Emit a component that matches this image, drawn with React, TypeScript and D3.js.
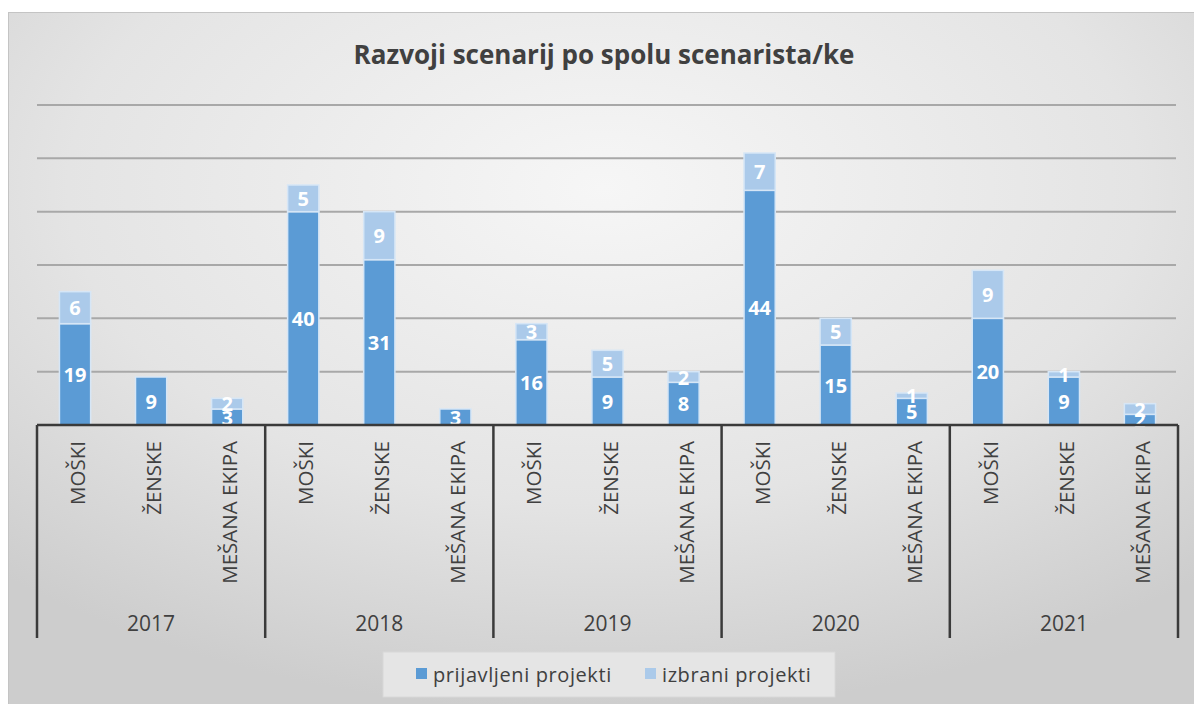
import React from "react";
import * as d3 from "d3";

const years = ["2017", "2018", "2019", "2020", "2021"];
const categories = ["MOŠKI", "ŽENSKE", "MEŠANA EKIPA"];
const prijavljeni = [19, 9, 3, 40, 31, 3, 16, 9, 8, 44, 15, 5, 20, 9, 2];
const izbrani = [6, 0, 2, 5, 9, 0, 3, 5, 2, 7, 5, 1, 9, 1, 2];
const yTicks = [10, 20, 30, 40, 50, 60];
const seriesNames = ["prijavljeni projekti", "izbrani projekti"];
const title = "Razvoji scenarij po spolu scenarista/ke";

const W = 1194;
const H = 704;
const left = 37;
const right = 1178;
const base = 425;
const top = 105;
const DARK = "#5B9BD5";
const LIGHT = "#ABCAEA";
const TEXT = "#404040";
const FONT = "'Open Sans', 'Noto Sans', sans-serif";

export default function App() {
  const keys = years.flatMap((yr) => categories.map((c) => `${yr}|${c}`));
  const x = d3
    .scaleBand<string>()
    .domain(keys)
    .range([left, right])
    .paddingInner(0.59)
    .paddingOuter(0.295);
  const xYear = d3.scaleBand<string>().domain(years).range([left, right]);
  const y = d3.scaleLinear().domain([0, 60]).range([base, top]);
  const bw = x.bandwidth();

  const stacked = keys.map((k, i) => {
    const a = prijavljeni[i];
    const b = izbrani[i];
    return { k, a, b, cat: k.split("|")[1] };
  });

  return (
    <svg
      width={W}
      height={H}
      style={{ position: "absolute", left: 0, top: 0, display: "block" }}
      fontFamily={FONT}
    >
      <defs>
        <radialGradient id="bg" cx="0.5" cy="0.25" r="0.75" gradientUnits="objectBoundingBox">
          <stop offset="0" stopColor="#f6f6f6" />
          <stop offset="0.6" stopColor="#e4e4e4" />
          <stop offset="1" stopColor="#cdcdcd" />
        </radialGradient>
      </defs>
      <rect x={0} y={0} width={W} height={H} fill="#ffffff" />
      <rect x={8.5} y={12.5} width={1190} height={700} fill="url(#bg)" stroke="#c4c4c4" strokeWidth={1} />

      <text x={604} y={64} textAnchor="middle" fontSize={26} fontWeight={700} fill={TEXT}>
        {title}
      </text>

      {yTicks.map((t) => (
        <line key={t} x1={left} x2={right - 2} y1={y(t)} y2={y(t)} stroke="#a8a8a8" strokeWidth={2} />
      ))}

      {stacked.map((d) => {
        const x0 = x(d.k)!;
        return (
          <g key={d.k}>
            {d.a > 0 && (
              <rect x={x0} y={y(d.a)} width={bw} height={y(0) - y(d.a)} fill={DARK} stroke="#d6e6f6" strokeWidth={1.5} />
            )}
            {d.b > 0 && (
              <rect x={x0} y={y(d.a + d.b)} width={bw} height={y(d.a) - y(d.a + d.b)} fill={LIGHT} stroke="#d6e6f6" strokeWidth={1.5} />
            )}
          </g>
        );
      })}

      {stacked.map((d) => {
        const cx = x(d.k)! + bw / 2;
        return (
          <g key={"l" + d.k} fontSize={20} fontWeight={700} fill="#ffffff" textAnchor="middle">
            {d.a > 0 && (
              <text x={cx} y={(y(0) + y(d.a)) / 2} dominantBaseline="central">
                {d.a}
              </text>
            )}
            {d.b > 0 && (
              <text x={cx} y={(y(d.a) + y(d.a + d.b)) / 2} dominantBaseline="central">
                {d.b}
              </text>
            )}
          </g>
        );
      })}

      <line x1={left} x2={right} y1={base} y2={base} stroke="#3a3a3a" strokeWidth={2.5} />
      {years.map((yr) => (
        <line key={yr} x1={xYear(yr)!} x2={xYear(yr)!} y1={base} y2={638} stroke="#3a3a3a" strokeWidth={2.5} />
      ))}
      <line x1={right} x2={right} y1={base} y2={638} stroke="#3a3a3a" strokeWidth={2.5} />

      {stacked.map((d) => {
        const cx = x(d.k)! + bw / 2 + 2;
        return (
          <text
            key={"c" + d.k}
            transform={`translate(${cx},441) rotate(-90)`}
            textAnchor="end"
            dominantBaseline="central"
            fontSize={20.5}
            fill={TEXT}
          >
            {d.cat}
          </text>
        );
      })}

      {years.map((yr) => (
        <text
          key={"y" + yr}
          x={xYear(yr)! + xYear.bandwidth() / 2}
          y={623}
          textAnchor="middle"
          dominantBaseline="central"
          fontSize={21}
          fill={TEXT}
        >
          {yr}
        </text>
      ))}

      <rect x={383} y={652} width={452} height={45} fill="#e5e5e5" stroke="#d8d8d8" strokeWidth={1} />
      <rect x={416} y={668} width={11} height={11} fill={DARK} />
      <text x={433} y={674} dominantBaseline="central" fontSize={20} letterSpacing={0.6} fill={TEXT}>
        {seriesNames[0]}
      </text>
      <rect x={645} y={668} width={11} height={11} fill={LIGHT} />
      <text x={662} y={674} dominantBaseline="central" fontSize={20} letterSpacing={0.6} fill={TEXT}>
        {seriesNames[1]}
      </text>
    </svg>
  );
}
